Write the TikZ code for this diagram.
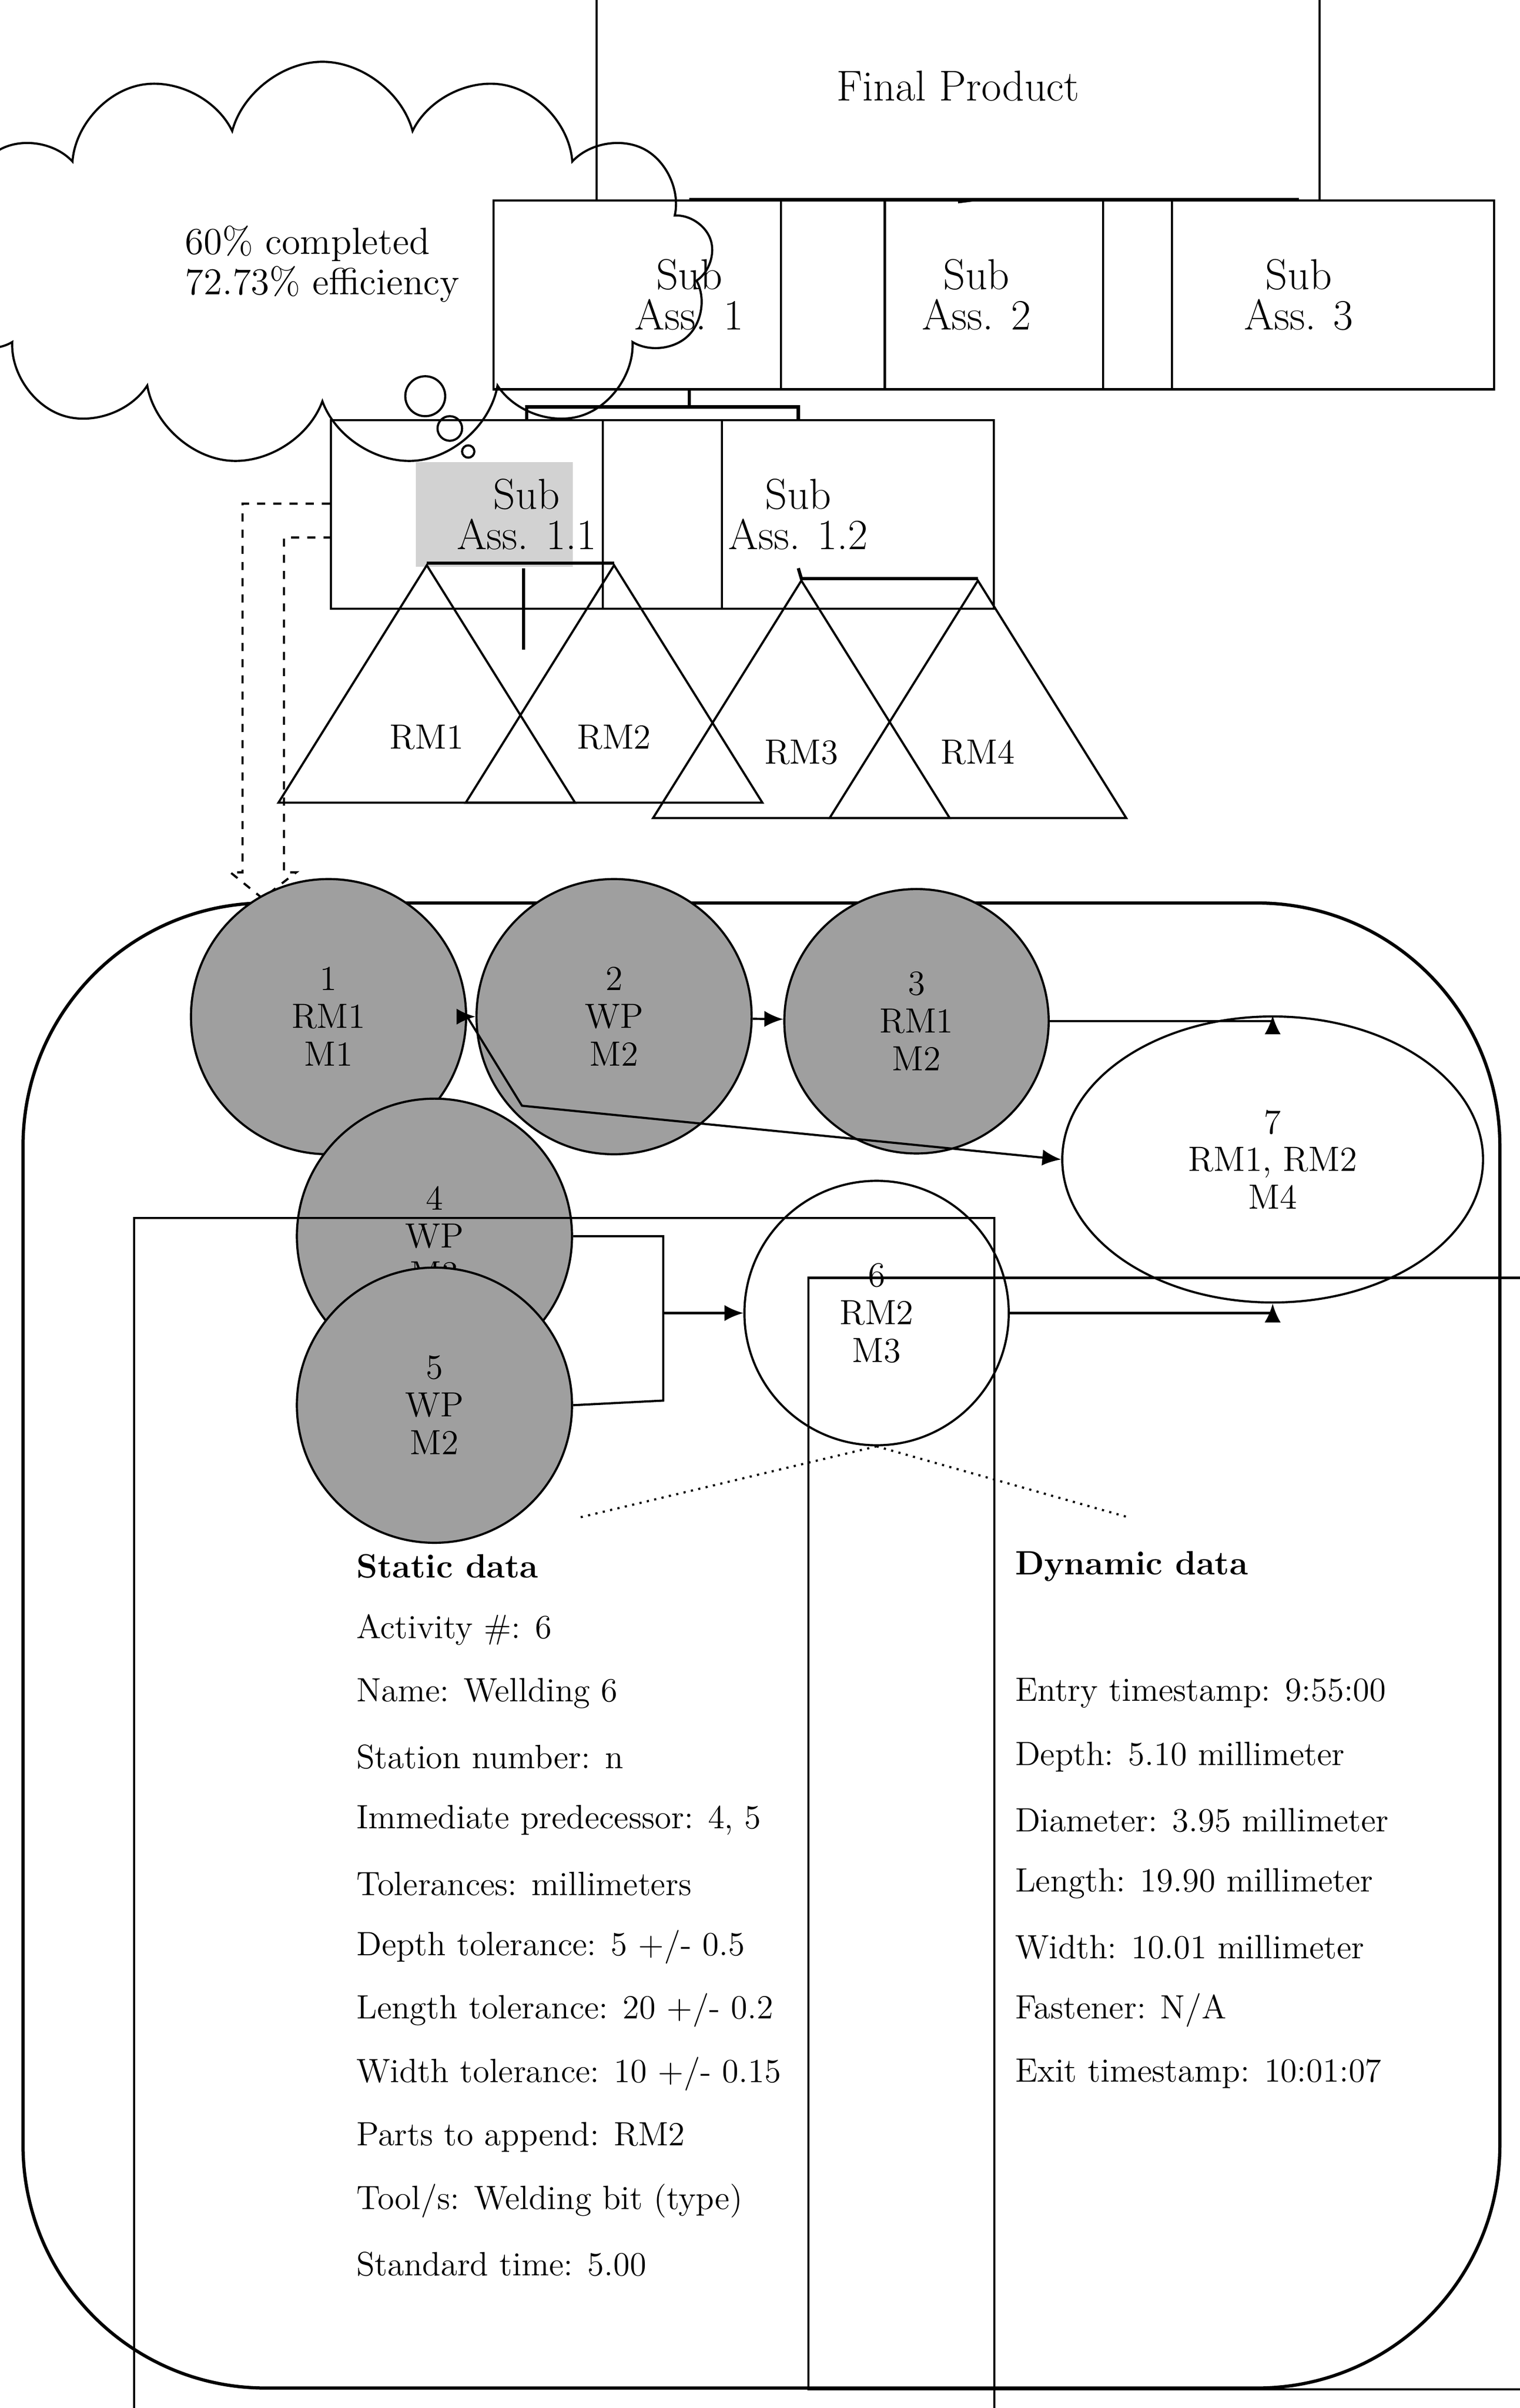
\documentclass[tikz,border=0pt]{standalone}
\usetikzlibrary{shapes.geometric,shapes.symbols,arrows.meta}

\tikzset{
  box/.style={draw, thick, minimum width=145, minimum height=70, align=center, inner sep=0pt, font=\fontsize{16}{15}\selectfont},
  tri/.style={draw, thick, isosceles triangle, isosceles triangle apex angle=64, shape border rotate=90, minimum height=88, inner sep=0pt, font=\fontsize{13}{15}\selectfont},
  act/.style={draw, thick, circle, minimum size=102, inner sep=0pt, align=center, fill=gray!75, font=\fontsize{13}{14}\selectfont},
  link/.style={thick, -{Latex[length=7pt,width=6pt]}},
  datatext/.style={anchor=west, font=\fontsize{12.5}{14}\selectfont}
}

\begin{document}
\begin{tikzpicture}[x=0.02cm, y=-0.02cm]
  \useasboundingbox (0,0) rectangle (990,1568);

  % tree of assemblies
  \node[box, minimum width=268, minimum height=85] (fp) at (624,56) {Final Product};
  \node[box] (s1) at (449,192) {Sub\\Ass. 1};
  \node[box] (s2) at (636,192) {Sub\\Ass. 2};
  \node[box] (s3) at (846,192) {Sub\\Ass. 3};
  \fill[gray!35] (271,301) rectangle (373,369);
  \node[box] (s11) at (343,335) {Sub\\Ass. 1.1};
  \node[box] (s12) at (520,335) {Sub\\Ass. 1.2};

  \draw[very thick] (fp.south) -- (635,130) coordinate (j0);
  \draw[very thick] (s1.north) |- (j0) -| (s3.north);
  \draw[very thick] (s2.north) -- (s2.north |- j0);
  \draw[very thick] (s1.south) -- (449,265) coordinate (j1);
  \draw[very thick] (s11.north) |- (j1) -| (s12.north);

  % raw materials
  \node[tri] (rm1) at (278,480) {RM1};
  \node[tri] (rm2) at (400,480) {RM2};
  \node[tri] (rm3) at (522,490) {RM3};
  \node[tri] (rm4) at (637,490) {RM4};
  \draw[very thick] (341,370) -- (341,423);
  \draw[very thick] (rm1.apex) -- (rm2.apex);
  \draw[very thick] (520,370) -- (rm3.apex) -- (rm4.apex);

  % progress cloud
  \node[cloud, draw, thick, cloud puffs=13, aspect=2, minimum width=290, minimum height=150, align=left, font=\fontsize{14}{15}\selectfont] (cl) at (210,172) {60\% completed\\72.73\% efficiency};
  \draw[thick] (277,258) circle (13);
  \draw[thick] (293,279) circle (8);
  \draw[thick] (305,294) circle (4);

  % zoom arrow
  \draw[thick, dashed] (s11.west |- 0,328) -- (158,328) -- (158,568) -- (150,568) -- (171,585) -- (193,568) -- (185,568) -- (185,350) -- (s11.west |- 0,350);

  % activity frame
  \draw[very thick, rounded corners=90] (15,588) rectangle (977,1555);

  \node[act] (a1) at (214,662) {1\\RM1\\M1};
  \node[act] (a2) at (400,662) {2\\WP\\M2};
  \node[act, minimum size=98] (a3) at (597,665) {3\\RM1\\M2};
  \node[act] (a4) at (283,805) {4\\WP\\M3};
  \node[act] (a5) at (283,915) {5\\WP\\M2};
  \node[act, fill=white, minimum size=98] (a6) at (571,855) {6\\RM2\\M3};
  \node[draw, thick, ellipse, minimum width=156, minimum height=106, inner sep=0pt, align=center, font=\fontsize{13}{14}\selectfont] (a7) at (829,755) {7\\RM1, RM2\\M4};

  \draw[link] (a1) -- (a2);
  \draw[link] (a2) -- (a3);
  \draw[link] (a3.east) -| (a7.north);
  \draw[link] (a1.east) -- (340,720) -- (a7.west);
  \draw[thick] (a4.east) -| (432,912) -- (a5.east);
  \draw[link] (432,855) -- (a6.west);
  \draw[link] (a6.east) -| (a7.south);

  % data boxes
  \node[draw, thick, minimum width=319, minimum height=515, inner sep=0pt] (st) at (367.5,1245.5) {};
  \node[draw, thick, minimum width=292, minimum height=412, inner sep=0pt] (dy) at (783,1194) {};
  \draw[thick, dotted] (a6.south) -- (378,988);
  \draw[thick, dotted] (a6.south) -- (735,988);

  \node[datatext, font=\fontsize{12.5}{14}\bfseries\selectfont] at (226,1020) {Static data};
  \foreach \t [count=\i] in {Activity \#: 6, Name: Wellding 6, Station number: n,
      Immediate predecessor: {4, 5}, Tolerances: millimeters, Depth tolerance: 5 +/- 0.5,
      Length tolerance: 20 +/- 0.2, Width tolerance: 10 +/- 0.15, Parts to append: RM2,
      Tool/s: Welding bit (type), Standard time: 5.00}
    \node[datatext] at (226,1020+41.3*\i) {\t};

  \node[datatext, font=\fontsize{12.5}{14}\bfseries\selectfont] at (655,1020) {Dynamic data};
  \foreach \t [count=\i from 2] in {Entry timestamp: 9:55:00, Depth: 5.10 millimeter,
      Diameter: 3.95 millimeter, Length: 19.90 millimeter, Width: 10.01 millimeter,
      Fastener: N/A, Exit timestamp: 10:01:07}
    \node[datatext] at (655,1020+41.3*\i) {\t};

\end{tikzpicture}
\end{document}
